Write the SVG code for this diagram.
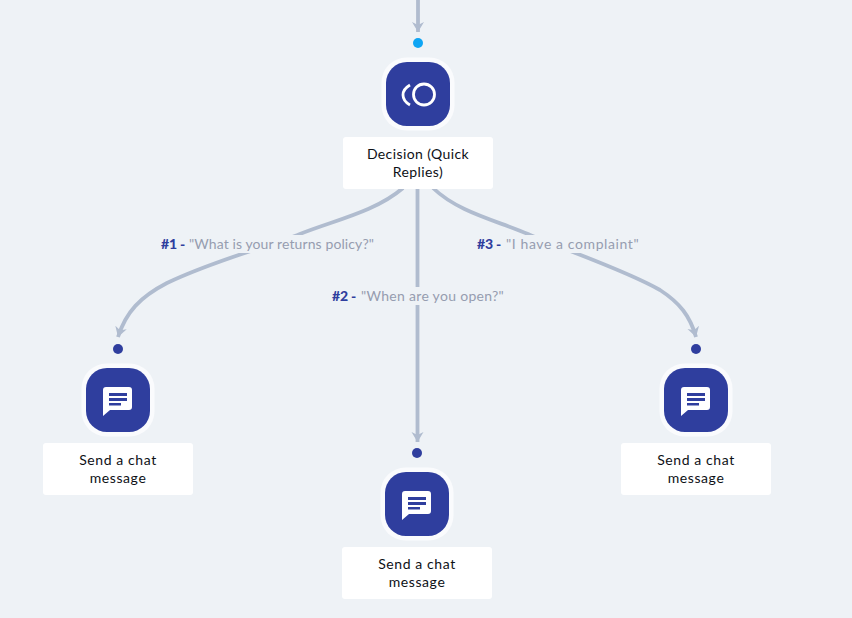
<svg xmlns="http://www.w3.org/2000/svg" width="852" height="618" viewBox="0 0 852 618">
<style>
text{font-family:"Lato","Noto Sans","Liberation Sans",sans-serif;font-size:14px}
.bg{fill:#eef2f6}
.edge{fill:none;stroke:#b0bccf;stroke-width:3.800}
.halo{fill:#fafbfd}
.tile{fill:#2f3e9e}
.box{fill:#fff}
.lbl{fill:#0d1016;text-anchor:middle;letter-spacing:.6px}
.lbl.wide{letter-spacing:.4px}
.num{fill:#2f3e9e;font-weight:900;letter-spacing:-.2px}
.say{fill:#969db0}
.dot{fill:#2f3e9e}
</style>
<defs>
<marker id="arrow" markerUnits="userSpaceOnUse" markerWidth="14" markerHeight="14" refX="10" refY="7" orient="auto" viewBox="0 0 14 14">
<path d="M0 1 L3 7 L0 13 L10 7 Z" fill="#b0bccf"/>
</marker>
<g id="tile">
<rect x="-4.500" y="-4.500" width="73" height="73" rx="25" class="halo"/>
<rect width="64" height="64" rx="21" class="tile"/>
</g>
<g id="chat">
<use href="#tile"/>
<path d="M20 19 H43 Q46 19 46 22 V39 Q46 42 43 42 H24 L17 48 V22 Q17 19 20 19 Z" fill="#fff"/>
<path d="M23 25 H41 V28 H23 Z M23 30 H41 V33 H23 Z M23 35 H35 V37.500 H23 Z" fill="#2f3e9e"/>
</g>
</defs>
<rect class="bg" width="852" height="618"/>
<g id="connectors">
<path class="edge" marker-end="url(#arrow)" d="M418 0 V32"/>
<path class="edge" marker-end="url(#arrow)" d="M403 188 C375 212 335 220 300 234 C270 246 215 260 167 283 C140 297 126 312 118 337"/>
<path class="edge" marker-end="url(#arrow)" d="M417.500 188 V442"/>
<path class="edge" marker-end="url(#arrow)" d="M433 188 C458 212 495 220 528 234 C570 252 625 270 660 290 C680 303 690 316 696 337"/>
</g>
<g id="edge-label-1">
<rect class="bg" x="156" y="235" width="222" height="18"/>
<text x="161" y="249" class="num">#1 -</text>
<text x="189" y="249" class="say" style="letter-spacing:.1px">"What is your returns policy?"</text>
</g>
<g id="edge-label-2">
<rect class="bg" x="327" y="287" width="182" height="18"/>
<text x="332" y="301" class="num">#2 -</text>
<text x="361" y="301" class="say" style="letter-spacing:.3px">"When are you open?"</text>
</g>
<g id="edge-label-3">
<rect class="bg" x="472" y="235" width="170" height="18"/>
<text x="477" y="249" class="num">#3 -</text>
<text x="506" y="249" class="say" style="letter-spacing:.6px">"I have a complaint"</text>
</g>
<g id="node-decision">
<circle cx="418" cy="43" r="5" fill="#0ea5f4"/>
<use href="#tile" x="386" y="62"/>
<circle cx="424" cy="94.500" r="10.500" fill="none" stroke="#fff" stroke-width="2.800"/>
<path d="M410 85 Q403 89 403 95 Q403 101 410 105" fill="none" stroke="#fff" stroke-width="2.800"/>
<rect class="box" x="343" y="137" width="150" height="52" rx="3"/>
<text class="lbl wide" x="418" y="159">Decision (Quick</text>
<text class="lbl wide" x="418" y="177">Replies)</text>
</g>
<g id="node-chat-1">
<circle class="dot" cx="118" cy="349" r="5"/>
<use href="#chat" x="86" y="368"/>
<rect class="box" x="43" y="443" width="150" height="52" rx="3"/>
<text class="lbl" x="118" y="465">Send a chat</text>
<text class="lbl" x="118" y="483">message</text>
</g>
<g id="node-chat-2">
<circle class="dot" cx="417" cy="453" r="5"/>
<use href="#chat" x="385" y="472"/>
<rect class="box" x="342" y="547" width="150" height="52" rx="3"/>
<text class="lbl" x="417" y="569">Send a chat</text>
<text class="lbl" x="417" y="587">message</text>
</g>
<g id="node-chat-3">
<circle class="dot" cx="696" cy="349" r="5"/>
<use href="#chat" x="664" y="368"/>
<rect class="box" x="621" y="443" width="150" height="52" rx="3"/>
<text class="lbl" x="696" y="465">Send a chat</text>
<text class="lbl" x="696" y="483">message</text>
</g>
</svg>
